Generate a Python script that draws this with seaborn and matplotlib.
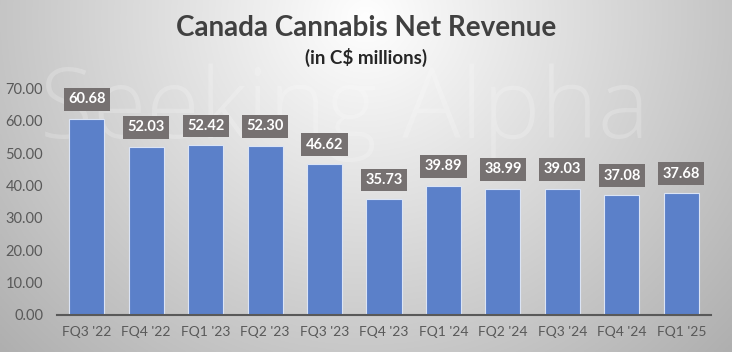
import numpy as np
import pandas as pd
import seaborn as sns
import matplotlib.pyplot as plt

quarters = ["FQ3 '22", "FQ4 '22", "FQ1 '23", "FQ2 '23", "FQ3 '23", "FQ4 '23",
            "FQ1 '24", "FQ2 '24", "FQ3 '24", "FQ4 '24", "FQ1 '25"]
revenue = [60.68, 52.03, 52.42, 52.30, 46.62, 35.73, 39.89, 38.99, 39.03, 37.08, 37.68]
yticks = [0, 10, 20, 30, 40, 50, 60, 70]

df = pd.DataFrame({"quarter": quarters, "revenue": revenue})

sns.set_style("white")
plt.rcParams['font.family'] = ['Lato', 'DejaVu Sans']

fig = plt.figure(figsize=(7.32, 3.52), dpi=100)

# gradient background
bg = fig.add_axes([0, 0, 1, 1], zorder=0)
xx, yy = np.meshgrid(np.linspace(0, 1, 400), np.linspace(0, 1, 200))
r = np.sqrt(((xx - 0.5) / 0.55) ** 2 + ((yy - 0.95) / 1.1) ** 2)
g = 1.0 - 0.25 * np.clip(r, 0, 1.3)
bg.imshow(np.dstack([g, g, g]), extent=[0, 1, 0, 1], origin="lower", aspect="auto")
bg.axis("off")
# faint watermark
bg.text(345 / 732, 1 - 138 / 352, "Seeking Alpha", fontsize=70, color="white", alpha=0.2,
        ha="center", va="baseline", fontweight="light", family="Open Sans")

ax = fig.add_axes([57 / 732, 1 - 315 / 352, (711 - 57) / 732, (315 - 82) / 352], zorder=1)
ax.set_facecolor("none")
sns.barplot(data=df, x="quarter", y="revenue", color="#5B80C9", width=0.59,
            saturation=1, edgecolor="#dbe4f5", linewidth=0.8, ax=ax)

for i, v in enumerate(revenue):
    ax.annotate(f"{v:.2f}", (i, v), xytext=(0, 14), textcoords="offset points",
                ha="center", va="center", color="white", fontsize=10.5, fontweight="bold",
                bbox=dict(boxstyle="square,pad=0.3", fc="#767171", ec="none"))

ax.set_ylim(0, 72)
ax.set_xlim(-0.5, 10.5)
ax.set_yticks(yticks)
ax.set_yticklabels([f"{t:.2f}" for t in yticks], fontsize=10.5, color="#595959")
ax.tick_params(axis="x", labelsize=10, labelcolor="#595959", length=0, pad=8)
ax.tick_params(axis="y", length=0, pad=10)
ax.set_xlabel("")
ax.set_ylabel("")
for s in ["top", "right", "left"]:
    ax.spines[s].set_visible(False)
ax.spines["bottom"].set_color("#595959")
ax.spines["bottom"].set_linewidth(1.5)

fig.text(0.5, 1 - 28 / 352, "Canada Cannabis Net Revenue", ha="center", va="center",
         fontsize=20, fontweight="bold", color="#404040")
fig.text(0.5, 1 - 57 / 352, "(in C$ millions)", ha="center", va="center",
         fontsize=13.5, fontweight="bold", color="#262626")

fig.savefig("out.png", dpi=100)
